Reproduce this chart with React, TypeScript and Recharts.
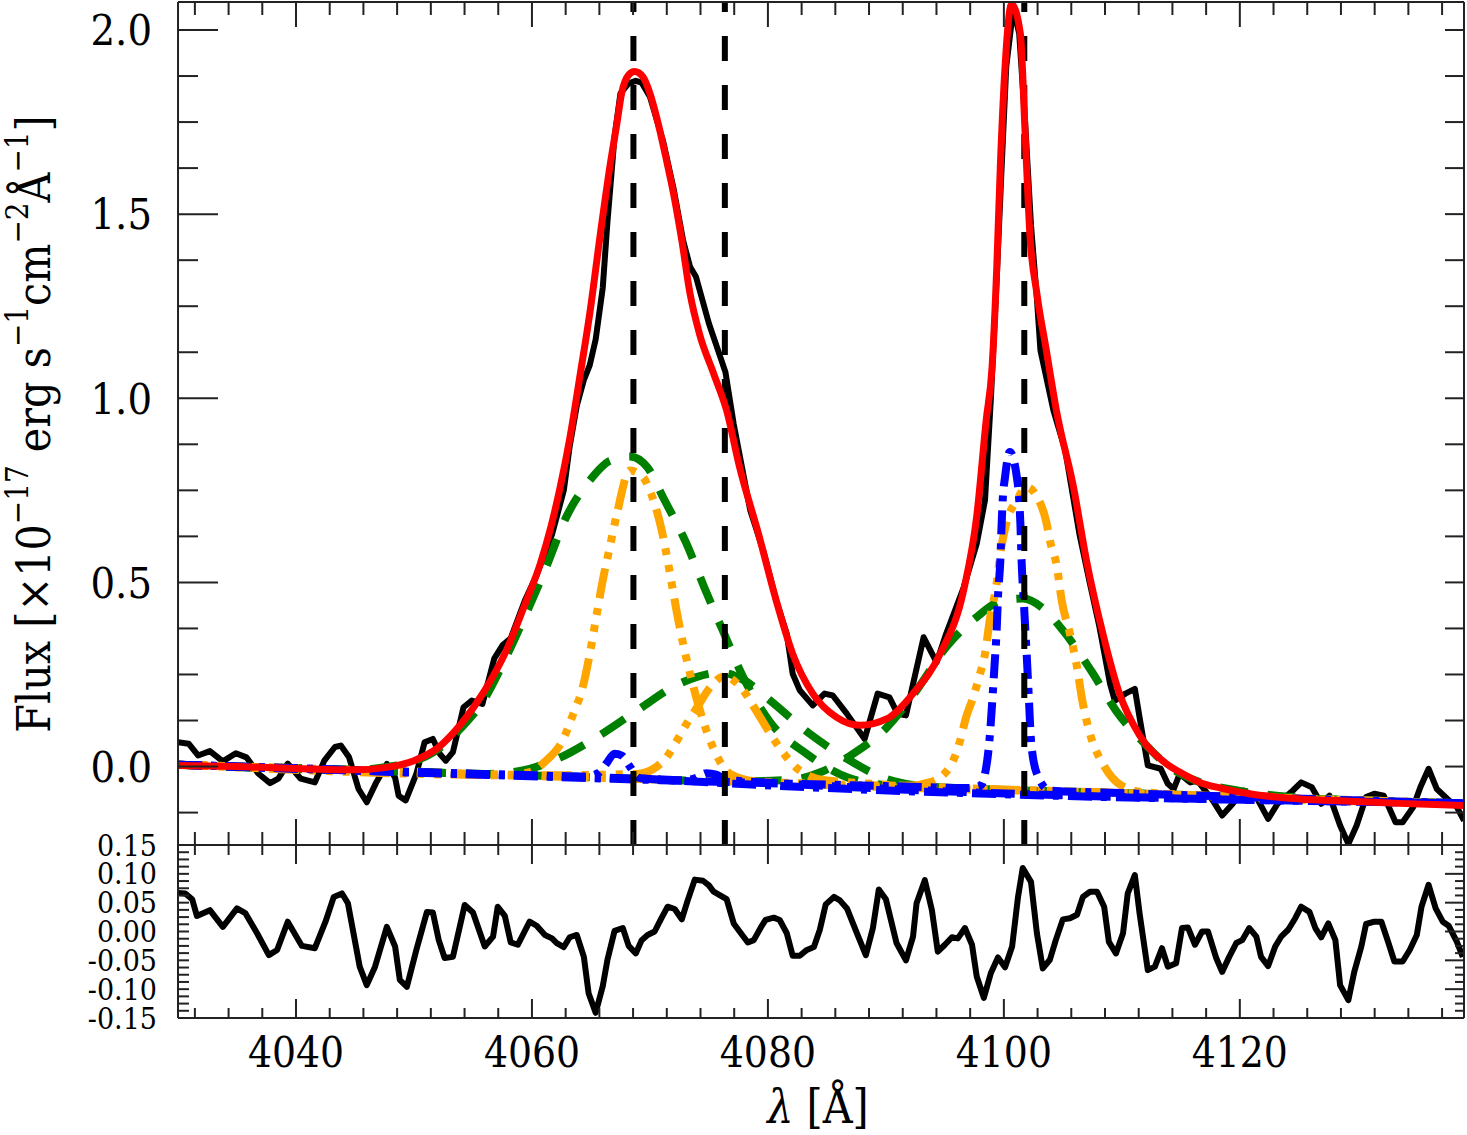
import React from 'react'
import { LineChart, Line, XAxis, YAxis, ReferenceLine } from 'recharts'

// observed spectrum (top panel)
const obsWave = [
  4030.0, 4030.9, 4031.7, 4032.7, 4033.8, 4034.9, 4035.8, 4036.8, 4037.8, 4038.5,
  4039.3, 4040.4, 4041.6, 4042.4, 4043.3, 4043.8, 4044.5, 4045.3, 4046.0, 4046.8,
  4047.7, 4048.4, 4048.7, 4049.3, 4050.2, 4050.9, 4051.6, 4052.2, 4052.7, 4053.3,
  4054.2, 4054.9, 4055.8, 4056.8, 4057.5, 4058.2, 4059.4, 4060.4, 4061.1, 4061.7,
  4062.7, 4063.2, 4063.8, 4064.4, 4064.9, 4065.4, 4066.0, 4066.4, 4067.0, 4067.5,
  4068.2, 4068.8, 4069.3, 4070.0, 4071.1, 4072.0, 4072.8, 4073.4, 4073.9, 4075.0,
  4076.4, 4077.1, 4078.5, 4079.6, 4080.7, 4081.6, 4082.1, 4082.7, 4083.8, 4084.8,
  4085.5, 4086.7, 4088.2, 4089.3, 4090.3, 4091.0, 4091.7, 4093.2, 4094.3, 4095.1,
  4096.6, 4097.7, 4098.4, 4098.9, 4099.4, 4099.8, 4100.2, 4100.8, 4101.3, 4101.8,
  4102.3, 4102.8, 4103.1, 4104.2, 4105.2, 4106.4, 4107.3, 4108.1, 4109.0, 4109.4,
  4110.3, 4111.1, 4111.5, 4112.2, 4113.3, 4113.9, 4114.4, 4114.9, 4115.8, 4116.4,
  4117.7, 4118.5, 4119.4, 4120.3, 4121.4, 4122.4, 4123.2, 4124.5, 4125.2, 4126.1,
  4126.9, 4127.6, 4128.5, 4129.2, 4129.9, 4130.7, 4131.4, 4132.2, 4133.2, 4133.8,
  4134.7, 4135.3, 4136.0, 4136.7, 4137.6, 4138.4, 4139.0,
]
const obsFlux = [
  0.066, 0.062, 0.030, 0.042, 0.014, 0.036, 0.025, -0.019, -0.045, -0.033,
  0.008, -0.033, -0.043, 0.016, 0.053, 0.057, 0.025, -0.061, -0.097, -0.043,
  0.007, -0.030, -0.079, -0.092, -0.020, 0.066, 0.075, 0.034, 0.016, 0.039,
  0.161, 0.179, 0.170, 0.293, 0.329, 0.348, 0.451, 0.52, 0.58, 0.63,
  0.75, 0.87, 0.98, 1.05, 1.09, 1.16, 1.30, 1.48, 1.71, 1.828,
  1.855, 1.862, 1.857, 1.819, 1.70, 1.57, 1.43, 1.357, 1.33, 1.203,
  1.071, 0.93, 0.696, 0.587, 0.451, 0.36, 0.252, 0.207, 0.166, 0.198,
  0.193, 0.143, 0.075, 0.198, 0.188, 0.143, 0.139, 0.351, 0.283, 0.36,
  0.487, 0.605, 0.723, 1.0, 1.33, 1.62, 1.90, 2.06, 1.99, 1.75,
  1.47, 1.27, 1.13, 0.967, 0.859, 0.632, 0.496, 0.379, 0.225, 0.179,
  0.198, 0.211, 0.134, 0.003, -0.006, -0.047, -0.061, -0.02, -0.043, -0.038,
  -0.092, -0.133, -0.101, -0.065, -0.083, -0.142, -0.101, -0.065, -0.043, -0.056,
  -0.101, -0.079, -0.16, -0.21, -0.16, -0.083, -0.074, -0.079, -0.151, -0.151,
  -0.11, -0.056, -0.006, -0.061, -0.088, -0.11, -0.147,
]

// total fit (red)
const fitWave = [
  4030, 4035, 4040, 4045, 4047.5, 4050, 4052, 4054, 4056, 4057.7,
  4059.4, 4060.7, 4061.6, 4062.4, 4063.2, 4064.1, 4064.9, 4065.8, 4066.6, 4067.2,
  4067.6, 4068.2, 4068.7, 4069.4, 4070.0, 4070.7, 4071.4, 4072.0, 4072.7, 4073.4,
  4074.2, 4075.4, 4076.5, 4077.6, 4079.2, 4080.7, 4082.1, 4083.8, 4085.8, 4087.8,
  4090.1, 4092.3, 4094.6, 4096.6, 4097.7, 4098.5, 4099.0, 4099.4, 4099.7, 4100.1,
  4100.65, 4101.4, 4101.8, 4102.2, 4102.8, 4103.6, 4104.5, 4105.9, 4107.0, 4108.4,
  4109.8, 4111.5, 4113.8, 4114.9, 4116.6, 4118.3, 4120.8, 4125.1, 4129.3, 4133.5, 4139.0,
]
const fitFlux = [
  0.003, 0.0, -0.005, -0.009, -0.003, 0.016, 0.05, 0.116, 0.207, 0.306,
  0.44, 0.55, 0.65, 0.76, 0.89, 1.067, 1.23, 1.447, 1.628, 1.746,
  1.828, 1.878, 1.887, 1.873, 1.828, 1.746, 1.647, 1.556, 1.429, 1.284,
  1.175, 1.067, 0.967, 0.813, 0.632, 0.451, 0.306, 0.198, 0.134, 0.112,
  0.13, 0.198, 0.306, 0.48, 0.68, 0.94, 1.085, 1.357, 1.63, 1.90,
  2.07, 1.99, 1.72, 1.447, 1.284, 1.13, 0.959, 0.759, 0.56, 0.36,
  0.198, 0.085, 0.007, -0.015, -0.043, -0.058, -0.074, -0.088, -0.094, -0.1, -0.106,
]

// broad components (green dashed)
const broadSII1Wave = [4030, 4045, 4048, 4050, 4052, 4054, 4056, 4057.7, 4059.5, 4061.2, 4062.9, 4064.9, 4066.6, 4068.3, 4069.8, 4071.1, 4073.1, 4074.6, 4076.3, 4077.9, 4080.2, 4083.3, 4086.7, 4090, 4110, 4139]
const broadSII1Flux = [0.005, -0.009, 0.0, 0.014, 0.046, 0.105, 0.185, 0.29, 0.415, 0.541, 0.677, 0.777, 0.83, 0.842, 0.812, 0.732, 0.605, 0.487, 0.36, 0.243, 0.12, 0.034, -0.029, -0.05, -0.072, -0.1]
const broadSII2Wave = [4030, 4050, 4056, 4059, 4061.8, 4065.5, 4068.9, 4072.5, 4076.0, 4078.0, 4080.2, 4083.5, 4086.7, 4090, 4094, 4110, 4139]
const broadSII2Flux = [0.005, -0.014, -0.02, -0.012, 0.016, 0.08, 0.152, 0.225, 0.255, 0.234, 0.179, 0.09, 0.021, -0.033, -0.055, -0.072, -0.1]
const broadHdWave = [4030, 4060, 4078, 4082, 4084.5, 4087, 4090.1, 4092.6, 4095.1, 4097.7, 4099.8, 4101.6, 4103.3, 4105.0, 4107.4, 4109.5, 4112.0, 4114.0, 4116.0, 4120, 4125, 4130, 4139]
const broadHdFlux = [0.005, -0.024, -0.04, -0.036, -0.015, 0.03, 0.107, 0.207, 0.324, 0.406, 0.45, 0.456, 0.43, 0.37, 0.26, 0.152, 0.06, 0.0, -0.035, -0.066, -0.084, -0.093, -0.101]

// intermediate components (orange dash-dot-dot-dot)
const midSII1Wave = [4030, 4050, 4058, 4059.8, 4061.2, 4062.6, 4063.5, 4064.3, 4064.9, 4065.5, 4066.0, 4066.6, 4067.2, 4068.3, 4069.4, 4070.1, 4071.0, 4071.7, 4072.3, 4073.0, 4073.7, 4074.5, 4075.6, 4076.8, 4079, 4110, 4139]
const midSII1Flux = [0.005, -0.014, -0.022, -0.015, 0.016, 0.071, 0.143, 0.215, 0.306, 0.415, 0.505, 0.596, 0.686, 0.804, 0.786, 0.741, 0.641, 0.524, 0.415, 0.306, 0.215, 0.125, 0.034, -0.02, -0.04, -0.072, -0.1]
const midSII2Wave = [4030, 4060, 4068.9, 4070.3, 4071.4, 4072.3, 4073.1, 4074.0, 4075.1, 4076.3, 4077.9, 4079.0, 4080.2, 4081.6, 4082.7, 4085, 4110, 4139]
const midSII2Flux = [0.005, -0.024, -0.02, -0.006, 0.025, 0.071, 0.116, 0.161, 0.215, 0.245, 0.207, 0.152, 0.089, 0.025, -0.011, -0.038, -0.072, -0.1]
const midHdWave = [4030, 4080, 4092, 4093.7, 4095.4, 4096.3, 4096.8, 4097.4, 4097.9, 4098.4, 4098.8, 4099.4, 4099.7, 4100.2, 4101.1, 4101.9, 4103.1, 4103.6, 4103.9, 4104.5, 4104.9, 4105.6, 4106.2, 4106.6, 4107.3, 4108.4, 4110.0, 4112, 4139]
const midHdFlux = [0.005, -0.043, -0.052, -0.043, -0.002, 0.071, 0.134, 0.188, 0.243, 0.306, 0.397, 0.5, 0.578, 0.66, 0.723, 0.759, 0.714, 0.664, 0.614, 0.542, 0.451, 0.361, 0.27, 0.188, 0.089, 0.007, -0.052, -0.07, -0.1]

// narrow components (blue dash-dot)
const narSII1Wave = [4030, 4060, 4064.5, 4065.6, 4066.3, 4067.0, 4067.6, 4068.3, 4069.0, 4070, 4139]
const narSII1Flux = [0.005, -0.024, -0.027, -0.018, 0.008, 0.035, 0.03, 0.0, -0.03, -0.034, -0.1]
const narSII2Wave = [4030, 4070, 4073.0, 4074.0, 4074.8, 4075.6, 4076.5, 4078, 4139]
const narSII2Flux = [0.005, -0.034, -0.037, -0.03, -0.018, -0.022, -0.036, -0.04, -0.1]
const narHdWave = [4030, 4090, 4097, 4098.0, 4098.4, 4098.8, 4099.0, 4099.2, 4099.4, 4099.5, 4099.7, 4099.8, 4099.9, 4100.1, 4100.5, 4101.1, 4101.3, 4101.4, 4101.5, 4101.7, 4101.9, 4102.1, 4102.3, 4102.8, 4103.9, 4110, 4139]
const narHdFlux = [0.005, -0.053, -0.058, -0.052, -0.02, 0.08, 0.17, 0.27, 0.379, 0.46, 0.56, 0.65, 0.723, 0.786, 0.854, 0.786, 0.723, 0.66, 0.56, 0.442, 0.324, 0.198, 0.071, -0.02, -0.065, -0.072, -0.1]

// residuals (bottom panel)
const resWave = [
  4030.0, 4030.6, 4031.2, 4031.6, 4032.7, 4033.8, 4035.0, 4035.7, 4036.7, 4037.7,
  4038.4, 4039.3, 4040.5, 4041.6, 4042.5, 4043.2, 4043.9, 4044.4, 4045.4, 4046.0,
  4046.7, 4047.7, 4048.4, 4048.8, 4049.4, 4050.2, 4051.1, 4051.6, 4052.1, 4052.6,
  4053.3, 4054.3, 4055.0, 4056.0, 4056.7, 4057.1, 4057.7, 4058.2, 4058.8, 4059.8,
  4060.4, 4061.1, 4061.7, 4062.1, 4062.7, 4063.2, 4063.8, 4064.4, 4064.8, 4065.4,
  4066.0, 4066.4, 4067.0, 4067.7, 4068.2, 4068.8, 4069.3, 4069.8, 4070.4, 4070.9,
  4071.5, 4072.1, 4072.7, 4073.2, 4073.8, 4074.5, 4075.0, 4075.4, 4076.5, 4077.1,
  4077.6, 4078.3, 4078.8, 4079.4, 4079.8, 4080.5, 4081.0, 4081.6, 4082.1, 4082.7,
  4083.3, 4083.9, 4084.4, 4084.9, 4085.6, 4086.1, 4086.7, 4087.6, 4088.3, 4088.9,
  4089.4, 4090.0, 4090.9, 4091.7, 4092.3, 4092.6, 4093.3, 4093.9, 4094.4, 4095.0,
  4095.6, 4096.1, 4096.7, 4097.3, 4097.7, 4098.3, 4098.9, 4099.5, 4100.1, 4100.7,
  4101.2, 4101.6, 4102.3, 4102.8, 4103.3, 4103.9, 4104.4, 4105.0, 4105.6, 4106.2,
  4106.7, 4107.3, 4107.9, 4108.5, 4108.9, 4109.5, 4110.1, 4110.5, 4111.1, 4111.5,
  4112.2, 4112.8, 4113.4, 4113.9, 4114.6, 4115.1, 4115.6, 4116.2, 4116.8, 4117.3,
  4118.0, 4118.5, 4119.1, 4119.7, 4120.2, 4120.8, 4121.4, 4121.8, 4122.4, 4123.0,
  4123.5, 4124.1, 4124.7, 4125.2, 4125.9, 4126.4, 4126.9, 4127.5, 4128.1, 4128.5,
  4129.2, 4129.7, 4130.3, 4130.7, 4131.4, 4132.0, 4132.6, 4133.1, 4133.8, 4134.4,
  4135.0, 4135.4, 4136.0, 4136.6, 4137.2, 4137.7, 4138.4, 4138.9,
]
const resFlux = [
  0.067, 0.066, 0.056, 0.027, 0.037, 0.008, 0.040, 0.032, -0.003, -0.041,
  -0.032, 0.017, -0.025, -0.029, 0.017, 0.060, 0.066, 0.049, -0.061, -0.093,
  -0.061, 0.008, -0.026, -0.084, -0.096, -0.032, 0.034, 0.033, -0.015, -0.046,
  -0.044, 0.046, 0.033, -0.026, -0.009, 0.043, 0.027, -0.019, -0.023, 0.017,
  0.010, -0.006, -0.012, -0.020, -0.027, -0.010, -0.006, -0.044, -0.107, -0.141,
  -0.095, -0.049, 0.001, 0.006, -0.025, -0.038, -0.015, -0.006, 0.000, 0.020,
  0.043, 0.039, 0.021, 0.054, 0.090, 0.088, 0.080, 0.069, 0.056, 0.014,
  0.000, -0.019, -0.015, 0.007, 0.020, 0.024, 0.020, -0.003, -0.042, -0.042,
  -0.032, -0.027, 0.003, 0.047, 0.060, 0.054, 0.040, -0.006, -0.041, 0.006,
  0.073, 0.056, -0.020, -0.050, -0.009, 0.049, 0.089, 0.037, -0.035, -0.023,
  -0.010, -0.012, 0.006, -0.023, -0.078, -0.115, -0.072, -0.045, -0.062, -0.026,
  0.060, 0.110, 0.086, -0.003, -0.064, -0.049, -0.015, 0.021, 0.023, 0.029,
  0.060, 0.069, 0.069, 0.043, -0.018, -0.038, -0.003, 0.066, 0.098, 0.032,
  -0.067, -0.061, -0.029, -0.061, -0.055, 0.006, 0.007, -0.023, 0.000, 0.000,
  -0.046, -0.070, -0.044, -0.020, -0.015, 0.006, -0.009, -0.044, -0.060, -0.026,
  -0.009, 0.003, 0.023, 0.043, 0.034, 0.006, -0.010, 0.014, -0.015, -0.093,
  -0.119, -0.070, -0.026, 0.013, 0.017, 0.017, -0.020, -0.052, -0.052, -0.032,
  -0.006, 0.043, 0.081, 0.040, 0.017, 0.010, -0.018, -0.044,
]

// rest wavelengths of [S II] 4068.6, [S II] 4076.35, H delta
const lineCenters = [4068.6, 4076.35, 4101.73]

const xMajorTicks = [4040, 4060, 4080, 4100, 4120]
const fluxTicks = [0, 0.5, 1.0, 1.5, 2.0]
const resTicks = [-0.15, -0.1, -0.05, 0, 0.05, 0.1, 0.15]

// 7 minor intervals between labelled wavelengths
const xAllTicks: number[] = []
for (let k = -3; k <= 34; k++) xAllTicks.push(+(4040 + (k * 20) / 7).toFixed(3))

const fluxMinorTicks: number[] = []
const fluxAllTicks: number[] = []
for (let k = -1; k <= 16; k++) {
  fluxAllTicks.push(k * 0.125)
  if (k % 4 !== 0) fluxMinorTicks.push(k * 0.125)
}
const resMinorTicks: number[] = []
for (let k = -12; k <= 12; k++) {
  if (k % 4 !== 0) resMinorTicks.push(+(k * 0.0125).toFixed(4))
}

const toRows = (w: number[], f: number[]) => w.map((v, i) => ({ w: v, f: f[i] }))

const FONT = '"DejaVu Serif Condensed", "DejaVu Serif", serif'
const FRAME = '#222'
const X_DOMAIN: [number, number] = [4030, 4139]
const THIN = 0.01 // axes need a non-zero size to be drawn
const NoLabel = () => <g />

const GREEN = '#008000'
const ORANGE = '#ffa500'
const BLUE = '#0000ff'

const components = [
  { key: 'g1', w: broadSII1Wave, f: broadSII1Flux, color: GREEN, dash: '28 20' },
  { key: 'g2', w: broadSII2Wave, f: broadSII2Flux, color: GREEN, dash: '28 20' },
  { key: 'g3', w: broadHdWave, f: broadHdFlux, color: GREEN, dash: '28 20' },
  { key: 'o1', w: midSII1Wave, f: midSII1Flux, color: ORANGE, dash: '30 10 7 10 7 10 7 10' },
  { key: 'o2', w: midSII2Wave, f: midSII2Flux, color: ORANGE, dash: '30 10 7 10 7 10 7 10' },
  { key: 'o3', w: midHdWave, f: midHdFlux, color: ORANGE, dash: '30 10 7 10 7 10 7 10' },
  { key: 'b1', w: narSII1Wave, f: narSII1Flux, color: BLUE, dash: '24 9 6 9' },
  { key: 'b2', w: narSII2Wave, f: narSII2Flux, color: BLUE, dash: '24 9 6 9' },
  { key: 'b3', w: narHdWave, f: narHdFlux, color: BLUE, dash: '24 9 6 9' },
]

const edge = { stroke: FRAME, strokeWidth: 2 }

type TickLen = { bM: number; bm: number; tM: number; tm: number }

// draws the wavelength tick marks on both the bottom and the top edge of a panel
const makeXTick = (top: number, bottom: number, len: TickLen, labelY?: number) =>
  function XTick(props: any) {
    const { x, payload } = props
    const major = xMajorTicks.includes(payload.value)
    const b = major ? len.bM : len.bm
    const t = major ? len.tM : len.tm
    return (
      <g>
        <line x1={x} x2={x} y1={bottom} y2={bottom - b} stroke={FRAME} strokeWidth={2} />
        <line x1={x} x2={x} y1={top} y2={top + t} stroke={FRAME} strokeWidth={2} />
        {major && labelY !== undefined && (
          <text x={x} y={labelY} textAnchor="middle" fontFamily={FONT} fontSize={42} fill="#000">
            {payload.value}
          </text>
        )}
      </g>
    )
  }

const fluxXTick = makeXTick(2, 845, { bM: 26, bm: 13, tM: 25, tm: 13 })
const resXTick = makeXTick(45, 218, { bM: 19, bm: 10, tM: 19, tm: 10 }, 267)

const FluxPanel = () => (
  <LineChart width={1467} height={850} margin={{ top: 2, right: 3, bottom: 5, left: 178 }}>
    <XAxis xAxisId="x" dataKey="w" type="number" domain={X_DOMAIN} allowDataOverflow ticks={xAllTicks}
      interval={0} tick={fluxXTick} tickLine={false} height={THIN} axisLine={edge} />
    <XAxis xAxisId="xt" dataKey="w" orientation="top" type="number" domain={X_DOMAIN} allowDataOverflow
      ticks={xMajorTicks} interval={0} tick={NoLabel} tickLine={false} height={THIN} axisLine={edge} />
    <YAxis yAxisId="y" type="number" domain={[-0.213, 2.076]} allowDataOverflow ticks={fluxTicks} interval={0}
      width={THIN} tickSize={-40} tickMargin={66} axisLine={edge} tickLine={edge}
      tickFormatter={(v: number) => v.toFixed(1)}
      tick={{ fill: '#000', fontSize: 43, fontFamily: FONT }} />
    <YAxis yAxisId="ym" type="number" domain={[-0.213, 2.076]} allowDataOverflow ticks={fluxMinorTicks} interval={0}
      width={THIN} tickSize={-20} tick={NoLabel} axisLine={false} tickLine={edge} />
    <YAxis yAxisId="yr" orientation="right" type="number" domain={[-0.213, 2.076]} allowDataOverflow ticks={fluxAllTicks}
      interval={0} width={THIN} tickSize={-19} tick={NoLabel} axisLine={edge} tickLine={edge} />

    <Line xAxisId="x" yAxisId="y" data={toRows(obsWave, obsFlux)} dataKey="f" type="linear" stroke="#000"
      strokeWidth={6} strokeLinejoin="round" dot={false} activeDot={false} isAnimationActive={false} />
    {components.map((c) => (
      <Line key={c.key} xAxisId="x" yAxisId="y" data={toRows(c.w, c.f)} dataKey="f" type="monotone"
        stroke={c.color} strokeWidth={8} strokeDasharray={c.dash} dot={false} activeDot={false}
        isAnimationActive={false} />
    ))}
    {lineCenters.map((x) => (
      <ReferenceLine key={x} xAxisId="x" yAxisId="y" x={x} stroke="#000" strokeWidth={6} strokeDasharray="25 24" />
    ))}
    <Line xAxisId="x" yAxisId="y" data={toRows(fitWave, fitFlux)} dataKey="f" type="monotone" stroke="#ff0000"
      strokeWidth={7} dot={false} activeDot={false} isAnimationActive={false} />
  </LineChart>
)

const ResidualPanel = () => (
  <LineChart width={1467} height={335} margin={{ top: 45, right: 3, bottom: 117, left: 178 }}>
    <XAxis xAxisId="x" dataKey="w" type="number" domain={X_DOMAIN} allowDataOverflow ticks={xAllTicks}
      interval={0} tick={resXTick} tickLine={false} height={THIN} axisLine={edge} />
    <XAxis xAxisId="xt" dataKey="w" orientation="top" type="number" domain={X_DOMAIN} allowDataOverflow
      ticks={xMajorTicks} interval={0} tick={NoLabel} tickLine={false} height={THIN} axisLine={edge} />
    <YAxis yAxisId="y" type="number" domain={[-0.15, 0.15]} allowDataOverflow ticks={resTicks} interval={0}
      width={THIN} tickSize={-11} tickMargin={32} axisLine={edge} tickLine={edge}
      tickFormatter={(v: number) => v.toFixed(2)}
      tick={{ fill: '#000', fontSize: 30, fontFamily: FONT }} />
    <YAxis yAxisId="ym" type="number" domain={[-0.15, 0.15]} allowDataOverflow ticks={resMinorTicks} interval={0}
      width={THIN} tickSize={-11} tick={NoLabel} axisLine={false} tickLine={edge} />
    <YAxis yAxisId="yr" orientation="right" type="number" domain={[-0.15, 0.15]} allowDataOverflow ticks={resTicks}
      interval={0} width={THIN} tickSize={-19} tick={NoLabel} axisLine={edge} tickLine={edge} />
    <YAxis yAxisId="yrm" orientation="right" type="number" domain={[-0.15, 0.15]} allowDataOverflow ticks={resMinorTicks}
      interval={0} width={THIN} tickSize={-9} tick={NoLabel} axisLine={false} tickLine={edge} />
    <Line xAxisId="x" yAxisId="y" data={toRows(resWave, resFlux)} dataKey="f" type="linear" stroke="#000"
      strokeWidth={6} strokeLinejoin="round" dot={false} activeDot={false} isAnimationActive={false} />
  </LineChart>
)

export default function App() {
  return (
    <div style={{ position: 'absolute', left: 0, top: 0, width: 1467, height: 1135, background: '#fff', overflow: 'hidden' }}>
      <div style={{ position: 'absolute', left: 0, top: 0 }}>
        <FluxPanel />
      </div>
      <div style={{ position: 'absolute', left: 0, top: 800 }}>
        <ResidualPanel />
      </div>
      <svg width={1467} height={1135} style={{ position: 'absolute', left: 0, top: 0, pointerEvents: 'none' }}>
        <text x={818} y={1123} textAnchor="middle" fontFamily={FONT} fontSize={46} fill="#000">
          <tspan fontStyle="italic">λ</tspan>
          <tspan>{' [Å]'}</tspan>
        </text>
        <text transform="rotate(-90 50 424)" x={50} y={424} textAnchor="middle" fontFamily={FONT} fontSize={46} fill="#000">
          <tspan>{'Flux [×10'}</tspan>
          <tspan dy={-22} fontSize={31}>{'−17'}</tspan>
          <tspan dy={22}>{' erg s'}</tspan>
          <tspan dy={-22} fontSize={31}>{'−1'}</tspan>
          <tspan dy={22}>{'cm'}</tspan>
          <tspan dy={-22} fontSize={31}>{'−2'}</tspan>
          <tspan dy={22}>{'Å'}</tspan>
          <tspan dy={-22} fontSize={31}>{'−1'}</tspan>
          <tspan dy={22}>{']'}</tspan>
        </text>
      </svg>
    </div>
  )
}
